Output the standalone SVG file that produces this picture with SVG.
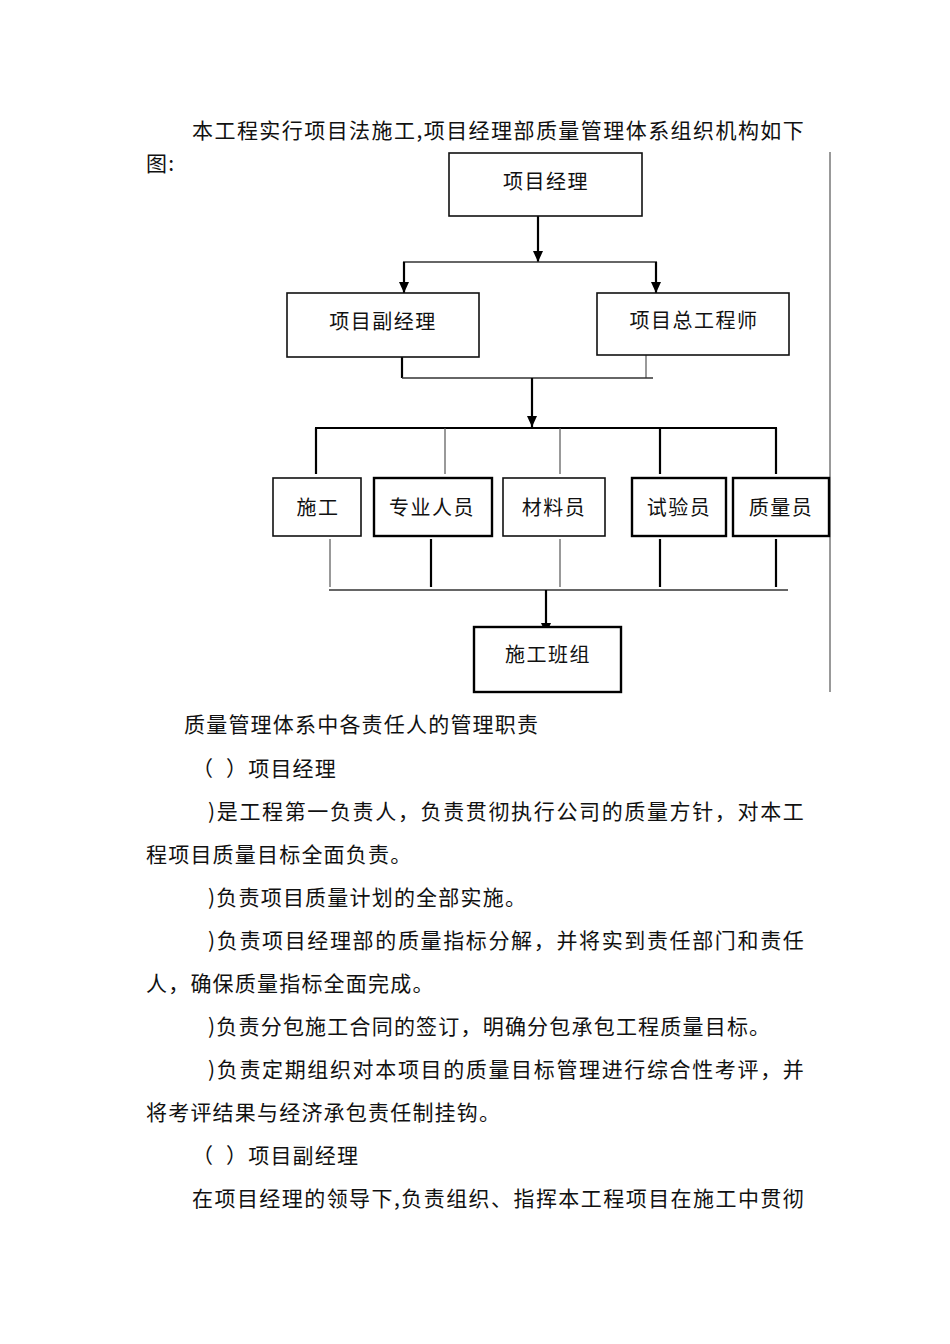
<svg xmlns="http://www.w3.org/2000/svg" width="950" height="1344" viewBox="0 0 950 1344">
<style>
  .t { font-family: "Noto Sans CJK SC", "Noto Sans", sans-serif; font-size: 21px; fill: #111; letter-spacing: 1.2px; }
  .pre { white-space: pre; }
  .lbl { font-family: "Noto Sans CJK SC", "Noto Sans", sans-serif; font-size: 20px; fill: #111; letter-spacing: 1.5px; text-anchor: middle; }
  .box { fill: #fff; stroke: #111; stroke-width: 1.6; }
  .boxb { fill: #fff; stroke: #000; stroke-width: 2.4; }
  .thick { stroke: #000; stroke-width: 2.2; fill: none; }
  .thin { stroke: #555; stroke-width: 1.2; fill: none; }
  .mid { stroke: #333; stroke-width: 1.6; fill: none; }
</style>
<defs>
  <marker id="arr" markerUnits="userSpaceOnUse" markerWidth="11" markerHeight="10" refX="11" refY="5" orient="auto">
    <path d="M0,0 L11,5 L0,10 z" fill="#000"/>
  </marker>
</defs>
<rect width="950" height="1344" fill="#fff"/>

<g id="intro">
  <text class="t" x="192" y="138" textLength="613" lengthAdjust="spacing">本工程实行项目法施工,项目经理部质量管理体系组织机构如下</text>
  <text class="t" x="146" y="171">图:</text>
</g>

<g id="connectors">
  <line class="thick" x1="538" y1="216" x2="538" y2="262" marker-end="url(#arr)"/>
  <line class="mid" x1="403" y1="262" x2="657" y2="262"/>
  <line class="thick" x1="404" y1="262" x2="404" y2="293" marker-end="url(#arr)"/>
  <line class="thick" x1="656" y1="262" x2="656" y2="293" marker-end="url(#arr)"/>
  <line class="thick" x1="402" y1="352" x2="402" y2="378"/>
  <line class="thin" x1="646" y1="355" x2="646" y2="378"/>
  <line class="mid" x1="402" y1="378" x2="653" y2="378"/>
  <line class="thick" x1="532" y1="378" x2="532" y2="427" marker-end="url(#arr)"/>
  <line class="thick" x1="315" y1="428" x2="777" y2="428"/>
  <line class="thick" x1="316" y1="428" x2="316" y2="474"/>
  <line class="thin" x1="445" y1="428" x2="445" y2="474"/>
  <line class="thin" x1="560" y1="428" x2="560" y2="474"/>
  <line class="thick" x1="660" y1="428" x2="660" y2="474"/>
  <line class="thick" x1="776" y1="428" x2="776" y2="474"/>
  <line class="thin" x1="330" y1="539" x2="330" y2="587"/>
  <line class="thick" x1="431" y1="539" x2="431" y2="587"/>
  <line class="thin" x1="560" y1="539" x2="560" y2="587"/>
  <line class="thick" x1="660" y1="539" x2="660" y2="587"/>
  <line class="thick" x1="776" y1="539" x2="776" y2="587"/>
  <line class="mid" x1="329" y1="590" x2="788" y2="590"/>
  <line class="thick" x1="546" y1="590" x2="546" y2="634" marker-end="url(#arr)"/>
  <line class="thin" x1="830" y1="152" x2="830" y2="692"/>
</g>

<g id="n-manager">
  <rect class="box" x="449" y="153" width="193" height="63"/>
  <text class="lbl" x="546" y="189">项目经理</text>
</g>
<g id="n-deputy">
  <rect class="box" x="287" y="293" width="192" height="64"/>
  <text class="lbl" x="383" y="329">项目副经理</text>
</g>
<g id="n-chief">
  <rect class="box" x="597" y="293" width="192" height="62"/>
  <text class="lbl" x="694" y="328">项目总工程师</text>
</g>
<g id="n-construction">
  <rect class="box" x="273" y="478" width="88" height="58"/>
  <text class="lbl" x="318" y="515">施工</text>
</g>
<g id="n-specialist">
  <rect class="boxb" x="374" y="478" width="118" height="58"/>
  <text class="lbl" x="432" y="515">专业人员</text>
</g>
<g id="n-material">
  <rect class="box" x="503" y="478" width="102" height="58"/>
  <text class="lbl" x="554" y="515">材料员</text>
</g>
<g id="n-test">
  <rect class="boxb" x="632" y="478" width="94" height="58"/>
  <text class="lbl" x="679" y="515">试验员</text>
</g>
<g id="n-quality">
  <rect class="boxb" x="733" y="478" width="96" height="58"/>
  <text class="lbl" x="781" y="515">质量员</text>
</g>
<g id="n-team">
  <rect class="boxb" x="474" y="627" width="147" height="65"/>
  <text class="lbl" x="548" y="662">施工班组</text>
</g>

<g id="body">
  <text class="t" x="184" y="732">质量管理体系中各责任人的管理职责</text>
  <text class="t pre" x="192" y="776">（  ）项目经理</text>
  <text class="t" x="208" y="819" textLength="597" lengthAdjust="spacing">)是工程第一负责人，负责贯彻执行公司的质量方针，对本工</text>
  <text class="t" x="146" y="862">程项目质量目标全面负责。</text>
  <text class="t" x="208" y="905">)负责项目质量计划的全部实施。</text>
  <text class="t" x="208" y="948" textLength="597" lengthAdjust="spacing">)负责项目经理部的质量指标分解，并将实到责任部门和责任</text>
  <text class="t" x="146" y="991">人，确保质量指标全面完成。</text>
  <text class="t" x="208" y="1034">)负责分包施工合同的签订，明确分包承包工程质量目标。</text>
  <text class="t" x="208" y="1077" textLength="597" lengthAdjust="spacing">)负责定期组织对本项目的质量目标管理进行综合性考评，并</text>
  <text class="t" x="146" y="1120">将考评结果与经济承包责任制挂钩。</text>
  <text class="t pre" x="192" y="1163">（  ）项目副经理</text>
  <text class="t" x="192" y="1206" textLength="613" lengthAdjust="spacing">在项目经理的领导下,负责组织、指挥本工程项目在施工中贯彻</text>
</g>
</svg>
